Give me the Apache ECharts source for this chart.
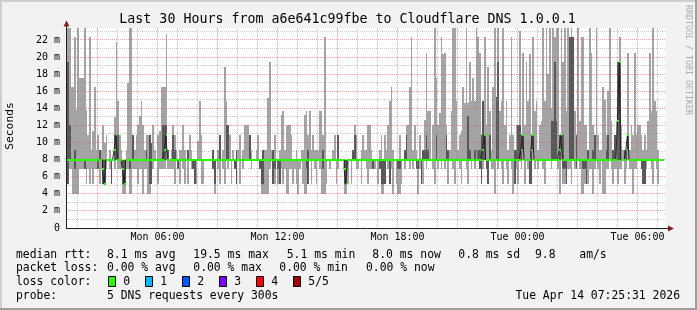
<!DOCTYPE html>
<html><head><meta charset="utf-8">
<script src="https://cdn.jsdelivr.net/npm/echarts@6/dist/echarts.min.js"></script>
<style>html,body{margin:0;padding:0;background:#f2f2f2}#c{width:697px;height:310px}</style>
</head><body><div id="c"></div><script>
// ---- data: 5 DNS pings per 5-minute step (sorted), Mon 01:25 .. Tue 07:20 ----
const pingMin = [6.9,5.1,6.9,6.9,4.0,4.0,4.0,4.0,6.9,6.9,
 6.9,6.9,5.1,6.9,5.1,6.9,5.1,6.9,6.9,6.9,
 5.1,6.9,5.1,5.1,6.9,8,6.9,5.1,8,6.9,
 8,6.9,6.9,6.9,4.0,4.0,6.9,6.9,4.0,4.0,
 6.9,6.9,6.9,5.1,6.9,6.9,4.0,6.9,6.9,4.0,
 4.0,5.1,6.9,8,8,5.1,6.9,6.9,6.9,6.9,
 8,6.9,6.9,6.9,6.9,5.1,8,6.9,5.1,8,
 6.9,5.1,8,5.1,8,6.9,6.9,5.1,5.1,8,
 8,5.1,5.1,8,8,8,8,8,6.9,4.0,
 8,6.9,5.1,8,6.9,5.1,8,6.9,8,5.1,
 8,6.9,5.1,8,5.1,8,6.9,8,8,8,
 8,6.9,8,8,8,8,6.9,4.0,4.0,4.0,
 4.0,4.0,6.9,8,5.1,5.1,8,5.1,5.1,6.9,
 5.1,6.9,4.0,4.0,6.9,6.9,5.1,6.9,5.1,4.0,
 6.9,8,5.1,4.0,4.0,5.1,8,5.1,8,6.9,
 5.1,8,6.9,4.0,4.0,4.0,5.1,8,6.9,8,
 8,8,5.1,6.9,8,8,8,4.0,4.0,5.1,
 8,5.1,8,8,6.9,6.9,8,5.1,8,8,
 6.9,5.1,6.9,6.9,6.9,6.9,8,5.1,6.9,4.0,
 4.0,5.1,8,6.9,5.1,6.9,4.0,8,5.1,4.0,
 4.0,5.1,8,6.9,8,8,6.9,8,6.9,8,
 6.9,4.0,6.9,5.1,5.1,8,6.9,8,8,8,
 6.9,5.1,8,6.9,8,6.9,8,6.9,8,5.1,
 8,8,6.9,5.1,8,8,6.9,5.1,8,8,
 6.9,5.1,8,6.9,8,6.9,8,8,6.9,5.1,
 6.9,8,6.9,5.1,8,6.9,6.9,4.0,8,6.9,
 8,6.9,5.1,8,6.9,5.1,8,6.9,4.0,5.1,
 6.9,5.1,8,6.9,8,5.1,8,6.9,5.1,5.1,
 8,6.9,8,6.9,8,8,6.9,5.1,8,8,
 8,6.9,8,8,8,6.9,4.0,8,5.1,5.1,
 5.1,6.9,6.9,5.1,8,6.9,6.9,8,6.9,4.0,
 4.0,5.1,5.1,5.1,6.9,6.9,4.0,6.9,8,6.9,
 5.1,8,4.0,4.0,6.9,6.9,8,6.9,5.1,6.9,
 6.9,5.1,6.9,6.9,8,5.1,6.9,8,6.9,6.9,
 4.0,6.9,6.9,8,8,6.9,5.1,5.1,6.9,8,
 8,6.9,5.1,8,6.9,5.1,8,8,8];
const ping2 = [8,5.1,8,8,8,6.9,8,8,8,8,
 8,6.9,8,8,8,8,8,8,8,6.9,
 8,8,5.1,5.1,8,8,8,5.1,8,8,
 8,8,8,8,5.1,5.1,8,8,6.9,8,
 8,8,8,8,8,8,8,8,8,8,
 5.1,5.1,8,8,8,8,8,8,8,8,
 9.1,8,8,8,8,8,8,6.9,8,8,
 8,8,8,8,8,8,6.9,5.1,8,8,
 8,8,8,8,8,8,8,8,6.9,5.1,
 8,8,8,8,8,8,8,8,8,8,
 8,6.9,5.1,8,8,8,8,8,8,8,
 8,8,8,8,8,8,6.9,5.1,5.1,8,
 8,8,8,8,5.1,6.9,8,6.9,5.1,8,
 8,8,8,8,8,8,8,8,8,8,
 8,8,8,8,6.9,5.1,8,8,8,8,
 8,8,8,8,6.9,8,8,8,8,8,
 8,8,8,8,8,8,8,5.1,5.1,8,
 8,8,8,8,8,8,8,8,8,8,
 8,8,8,8,6.9,8,8,8,6.9,5.1,
 5.1,5.1,8,8,5.1,8,8,8,8,6.9,
 6.9,8,8,8,8,8,8,8,8,8,
 6.9,6.9,8,5.1,8,8,8,8,8,8,
 8,8,8,8,8,8,8,8,8,8,
 8,8,8,8,8,8,8,8,8,8,
 8,8,8,8,8,8,8,8,6.9,5.1,
 8,8,6.9,5.1,8,8,8,8,8,8,
 8,8,8,8,8,8,8,8,8,5.1,
 8,8,8,8,9.1,8,8,8,5.1,5.1,
 9.1,8,8,8,8,8,8,8,8,8,
 8,8,8,8,8,8,8,9.1,6.9,6.9,
 5.1,8,8,8,8,8,6.9,8,8,8,
 6.9,6.9,5.1,8,8,8,8,8,8,8,
 8,8,8,8,8,8,8,8,8,8,
 8,8,8,8,8,8,8,9.1,8,8,
 8,8,8,8,8,6.9,5.1,5.1,8,8,
 8,8,8,8,8,8,8,8,8];
const pingMed = [8,8,8,8,8,8,8,8,8,8,
 8,8,8,8,8,8,8,8,8,8,
 8,8,6.9,5.1,8,8,8,8,8,9.1,
 10.9,8,8,8,6.9,5.1,8,8,8,8,
 8,8,8,8,8,8,8,8,8,8,
 8,8,8,8,8,8,8,8,8,9.1,
 10.9,8,8,8,8,8,8,8,8,8,
 8,8,8,8,8,8,8,8,8,8,
 8,8,8,8,8,8,8,8,8,8,
 8,8,8,8,8,8,8,8,8,8,
 8,8,8,8,8,8,8,8,8,8,
 8,8,8,8,8,8,8,8,8,8,
 8,8,8,8,8,8,8,8,8,8,
 8,8,8,8,8,8,8,8,8,8,
 8,8,8,8,8,8,8,8,8,8,
 8,8,8,8,8,8,8,8,8,8,
 8,8,8,8,8,8,8,6.9,5.1,8,
 8,8,8,8,8,8,8,8,8,8,
 8,8,8,8,8,8,8,8,8,8,
 8,8,8,8,8,8,8,8,8,8,
 8,8,8,8,8,8,8,8,8,8,
 8,8,8,8,8,8,8,8,8,8,
 8,8,8,8,8,8,8,8,8,8,
 8,8,8,8,8,8,8,8,8,8,
 8,8,8,8,8,8,8,8,8,8,
 9.1,10.9,8,8,8,8,8,8,8,8,
 8,8,8,8,8,8,8,8,8,8,
 8,8,8,9.1,10.9,8,8,8,8,9.1,
 10.9,8,8,8,8,8,8,8,8,8,
 8,8,8,8,8,8,9.1,10.9,8,8,
 8,8,8,8,8,8,8,8,8,8,
 8,8,8,8,8,8,8,8,8,8,
 8,8,8,8,8,8,8,8,8,8,
 8,12.5,19.4,8,8,8,9.1,10.9,8,8,
 8,8,8,8,8,8,8,8,8,8,
 8,8,8,8,8,8,8,8,8];
const ping4 = [8,19.4,12,8,8,9.1,8,8,8,8,
 8,8,8,8,8,8,8,8,8,8,
 9.1,8,8,8,8,8,8,8,8,10.9,
 10.9,10.9,8,8,8,8,8,8,8,8,
 10.9,8,8,8,8,8,8,8,9.1,8,
 10.9,10.0,8,8,8,8,8,8,12.0,12.0,
 12,9.1,8,8,10.9,9.1,8,8,8,8,
 8,8,8,9.1,8,8,8,8,8,8,
 8,8,8,8,8,8,8,8,9.1,8,
 8,8,10.9,8,8,8,12.0,12.0,8,8,
 8,8,9.1,8,8,8,8,8,8,8,
 10.9,8,8,8,8,8,8,8,9.1,8,
 8,8,8,8,9.1,8,8,8,8,8,
 8,8,8,8,8,8,8,8,8,8,
 8,8,8,8,8,9.1,8,8,8,8,
 8,8,8,8,9.1,8,8,8,8,8,
 8,8,8,10.9,8,8,8,8,8,8,
 8,8,9.1,10.9,8,8,8,8,8,8,
 8,8,8,8,8,8,8,8,8,8,
 8,8,8,8,8,8,8,8,8,8,
 8,8,8,9.1,10.9,8,8,8,8,8,
 8,8,8,8,9.1,9.1,10.9,9.1,8,8,
 8,8,10.9,8,8,8,8,8,10.9,9.1,
 8,8,8,8,8,8,8,8,8,8,
 8,13.1,9.1,8,8,9.1,8,9.1,9.1,10.9,
 14.9,10.9,8,8,10.9,8,8,8,15.3,19.4,
 8,8,8,8,8,8,8,8,8,9.1,
 9.1,12.0,12.0,10.9,10.9,8,8,8,8,10.9,
 10.9,8,8,8,8,8,8,8,8,8,
 8,12.5,12.5,19.4,12.5,8,10.9,10.9,10.9,8,
 8,8,22.3,22.3,22.3,8,10.9,8,8,8,
 8,8,8,9.1,8,8,9.1,10.9,8,8,
 8,8,8,8,9.1,10.9,8,8,9.1,10.9,
 8,19.4,19.4,8,8,9.1,9.1,10.9,8,8,
 8,8,8,8,8,8,8,8,8,8,
 8,8,8,8,8,8,8,8,8];
const pingMax = [9.1,23.4,23.4,16.5,16.5,22.3,13.8,23.4,17.6,17.6,
 17.6,23.4,13.8,10.9,22.3,9.1,11.3,16.5,9.1,10.9,
 9.1,9.1,12.0,10.0,10.9,8,9.1,8,8,13.0,
 21.8,14.9,10.9,9.1,8,8,9.1,17.0,23.4,23.4,
 10.9,9.1,10.9,12.0,13.1,14.9,12.0,9.1,10.9,10.9,
 10.9,10.0,12.0,9.1,8,10.9,11.3,16.5,16.5,16.5,
 22.7,9.1,8,9.1,12.0,10.9,9.1,8,9.1,9.1,
 12.0,9.1,8,9.1,10.9,9.1,8,8,8,10.2,
 14.9,10.9,8,8,8,8,8,8,9.1,8,
 8,9.1,10.9,8,9.1,18.8,14.9,12.0,10.9,8,
 9.1,8,9.1,9.1,10.9,8,9.1,12.0,12.0,12.0,
 10.9,9.1,8,8,9.1,10.9,8,8,9.1,9.1,
 9.1,15.2,19.4,9.1,9.1,10.9,8,8,9.1,13.2,
 13.7,9.1,12.0,12.0,12.0,10.9,8,8,9.1,8,
 8,9.1,9.1,13.2,13.7,10.9,13.7,9.1,10.9,9.1,
 9.1,9.1,13.7,13.7,10.9,22.3,8,8,8,8,
 9.1,10.9,8,10.9,8,8,8,8,8,8,
 8,8,9.1,12.0,10.9,8,8,9.1,10.9,9.1,
 9.1,12.0,12.0,9.1,8,8,8,8,9.1,10.9,
 8,10.9,9.1,12.0,14.9,16.5,9.1,8,8,8,
 10.9,8,8,9.1,12.0,12.0,16.5,22.3,9.1,12.0,
 9.1,8,10.9,8,9.1,12.6,20.5,13.7,13.7,8,
 12.0,23.4,17.6,12.0,13.4,22.3,20.3,20.5,12.0,9.1,
 9.1,13.7,23.4,23.4,14.9,9.1,10.9,11.3,16.5,14.6,
 23.4,14.6,19.4,14.9,17.6,14.9,23.4,22.3,20.5,10.9,
 14.9,22.3,12.0,18.8,13.7,9.1,16.5,23.4,15.3,23.4,
 13.7,14.9,23.4,12.0,14.9,9.1,10.9,22.3,10.9,9.1,
 12.0,12.0,23.0,10.9,20.5,12.0,19.4,14.9,20.3,10.9,
 22.3,13.7,14.9,9.1,12.0,12.5,23.4,14.9,23.4,18.0,
 23.4,14.0,23.4,22.3,23.4,23.4,10.9,23.4,19.4,23.4,
 13.7,23.4,22.3,23.4,22.3,13.7,10.9,23.4,12.5,22.3,
 22.3,12.0,12.0,9.1,23.4,20.5,12.0,10.9,23.4,10.9,
 9.1,9.1,16.5,15.0,10.9,16.0,23.4,12.5,9.1,10.9,
 12.5,19.4,22.3,12.0,9.1,9.1,9.1,20.5,9.1,12.0,
 10.9,20.5,10.9,12.0,12.0,10.9,9.1,10.9,9.1,12.5,
 20.5,13.7,23.4,14.9,13.7,9.1,8,8,8];

// ---- axis ticks and texts ----
const xTickHours = [6, 12, 18, 24, 30];
const xTickLabels = ['Mon 06:00', 'Mon 12:00', 'Mon 18:00', 'Tue 00:00', 'Tue 06:00'];
const titleText = 'Last 30 Hours from a6e641c99fbe to Cloudflare DNS 1.0.0.1';
const yName = 'Seconds';
const watermark = 'RRDTOOL / TOBI OETIKER';
const statRtt = ['median rtt:', '8.1 ms avg', '19.5 ms max', '5.1 ms min', '8.0 ms now', '0.8 ms sd', '9.8', 'am/s'];
const statLoss = ['packet loss:', '0.00 % avg', '0.00 % max', '0.00 % min', '0.00 % now'];
const lossTitle = 'loss color:';
const lossLabels = ['0', '1', '2', '3', '4', '5/5'];
const lossColors = ['#26ff00', '#00b8ff', '#0059ff', '#7e00ff', '#ff0000', '#a10000'];
const probeLine = ['probe:', '5 DNS requests every 300s'];
const stamp = 'Tue Apr 14 07:25:31 2026';

// ---- build ----
const FONT = '"DejaVu Sans Mono"';
const xMin = 1 + 25/60 + 31/3600, xMax = xMin + 30;
const firstStep = 1 + 25/60, stepH = 5/60;
const yMax = 23.4;
const rows = pingMed.map((m, i) => [firstStep + i*stepH, pingMin[i], ping2[i], ping4[i], pingMax[i], m]);
const medLine = rows.map(r => [r[0], r[5]]);
medLine.push([firstStep + rows.length*stepH, pingMed[pingMed.length-1]]);
const hourLines = []; for (let h = Math.ceil(xMin); h <= xMax; h++) hourLines.push([h, 0, h % 3 === 0 ? 1 : 0]);
const msLines = []; for (let v = 1; v < yMax; v++) msLines.push([xMin, v, v % 2 === 0 ? 1 : 0]);
const MINOR = 'rgba(143,143,143,0.45)', MAJOR = 'rgba(222,79,79,0.5)';

function stepX(api, t, cs){
  const a = Math.max(Math.round(api.coord([t, 0])[0]), cs.x);
  const b = Math.min(Math.round(api.coord([t + stepH, 0])[0]), cs.x + cs.width);
  return [a, b];
}
function smokeItem(params, api){
  const cs = params.coordSys, t = api.value(0);
  const [a, b] = stepX(api, t, cs); if (b <= a) return null;
  const y = v => Math.round(api.coord([t, v])[1]);
  const ch = [];
  const yl = y(api.value(1)), yh = y(api.value(4));
  if (yl > yh) ch.push({type:'rect', shape:{x:a, y:yh, width:b-a, height:yl-yh}, style:{fill:'#a4a4a4'}});
  const y2 = y(api.value(2)), y4 = y(api.value(3));
  if (y2 > y4) ch.push({type:'rect', shape:{x:a, y:y4, width:b-a, height:y2-y4}, style:{fill:'#585858'}});
  return {type:'group', children:ch};
}
function medItem(params, api){
  const cs = params.coordSys, t = api.value(0);
  const [a, b] = stepX(api, t, cs); if (b <= a) return null;
  const ym = Math.round(api.coord([t, api.value(5)])[1]);
  return {type:'rect', shape:{x:a, y:ym-1, width:b-a, height:2}, style:{fill:lossColors[0]}};
}
function vGrid(params, api){
  const cs = params.coordSys;
  const x = Math.floor(api.coord([api.value(0), 0])[0]) + 0.5;
  return {type:'line', shape:{x1:x, y1:cs.y, x2:x, y2:cs.y+cs.height},
    style:{stroke: api.value(2) ? MAJOR : MINOR, lineWidth:1, lineDash:[1,1]}};
}
function hGrid(params, api){
  const cs = params.coordSys;
  const y = Math.floor(api.coord([xMin, api.value(1)])[1]) + 0.5;
  return {type:'line', shape:{x1:cs.x, y1:y, x2:cs.x+cs.width, y2:y},
    style:{stroke: api.value(2) ? MAJOR : MINOR, lineWidth:1, lineDash:[1,1]}};
}

const GL = 66, GT = 28, GW = 600, GH = 200;
const txt = (text, x, y, size, extra) => Object.assign({type:'text', x:x, y:y, z:100,
  style:{text:text, font: size + 'px ' + FONT, fill:'#000', align:'left', verticalAlign:'middle'}}, extra || {});

const rttX = [16, 107, 193.3, 286.7, 372.3, 458.3, 535, 579.3];
const lossX = [16, 107, 193.3, 279.3, 366];
const boxX = [108.5, 145.5, 182.5, 219.5, 256.5, 293.5];
const graphics = [
  {type:'rect', shape:{x:0, y:0, width:697, height:2}, style:{fill:'#cfcfcf'}, z:100},
  {type:'rect', shape:{x:0, y:0, width:2, height:310}, style:{fill:'#cfcfcf'}, z:100},
  {type:'rect', shape:{x:0, y:308, width:697, height:2}, style:{fill:'#9e9e9e'}, z:100},
  {type:'rect', shape:{x:695, y:0, width:2, height:310}, style:{fill:'#9e9e9e'}, z:100},
  {type:'line', shape:{x1:GL+0.5, y1:GT+GH, x2:GL+0.5, y2:GT-2}, style:{stroke:'#1f1f1f', lineWidth:1}, z:100},
  {type:'line', shape:{x1:GL, y1:GT+GH+0.5, x2:GL+GW+3, y2:GT+GH+0.5}, style:{stroke:'#1f1f1f', lineWidth:1}, z:100},
  {type:'polygon', shape:{points:[[GL-2.5,GT-1.5],[GL+3.5,GT-1.5],[GL+0.5,GT-7.5]]}, style:{fill:'#801f1f'}, z:100},
  {type:'polygon', shape:{points:[[GL+GW+2,GT+GH-2.5],[GL+GW+2,GT+GH+3.5],[GL+GW+8,GT+GH+0.5]]}, style:{fill:'#801f1f'}, z:100},
  txt(titleText, 347.5, 19.3, 13.3, {style:{text:titleText, font:'13.3px '+FONT, fill:'#000', align:'center', verticalAlign:'middle'}}),
  txt(yName, 10.5, 126, 11.3, {rotation:Math.PI/2, style:{text:yName, font:'11.3px '+FONT, fill:'#000', align:'center', verticalAlign:'middle'}}),
  txt(watermark, 688.5, 60, 8.3, {rotation:-Math.PI/2, style:{text:watermark, font:'8.3px '+FONT, fill:'#ababab', align:'center', verticalAlign:'middle'}}),
];
statRtt.forEach((s, i) => graphics.push(txt(s, rttX[i], 254.8, 11.4)));
statLoss.forEach((s, i) => graphics.push(txt(s, lossX[i], 268.3, 11.4)));
graphics.push(txt(lossTitle, 16, 281.7, 11.4));
lossLabels.forEach((s, i) => {
  graphics.push({type:'rect', z:100, shape:{x:boxX[i], y:276.5, width:7, height:10}, style:{fill:lossColors[i], stroke:'#000', lineWidth:1}});
  graphics.push(txt(s, boxX[i] + 14.8, 281.7, 11.4));
});
graphics.push(txt(probeLine[0], 16, 295.6, 11.4));
graphics.push(txt(probeLine[1], 107, 295.6, 11.4));
graphics.push(txt(stamp, 680, 295.6, 11.4, {style:{text:stamp, font:'11.4px '+FONT, fill:'#000', align:'right', verticalAlign:'middle'}}));

const chart = echarts.init(document.getElementById('c'));
chart.setOption({
  animation:false,
  backgroundColor:'#f2f2f2',
  grid:{left:GL, top:GT, width:GW, height:GH, show:true, backgroundColor:'#ffffff', borderWidth:0},
  xAxis:{type:'value', min:xMin, max:xMax,
    axisLine:{show:false}, axisTick:{show:false}, splitLine:{show:false},
    axisLabel:{customValues:xTickHours, margin:4, fontFamily:FONT, fontSize:10, color:'#000',
      formatter:v => { const i = xTickHours.indexOf(Math.round(v)); return i >= 0 ? xTickLabels[i] : ''; }}},
  yAxis:{type:'value', min:0, max:yMax, interval:2,
    axisLine:{show:false}, axisTick:{show:false}, splitLine:{show:false},
    axisLabel:{showMaxLabel:false, margin:6, fontFamily:FONT, fontSize:10, color:'#000',
      formatter:v => v === 0 ? '0' : (v + ' m')}},
  graphic:graphics,
  series:[
    {type:'custom', z:2, renderItem:smokeItem, data:rows, encode:{x:0, y:[1,4]}, silent:true, clip:true},
    {type:'custom', z:3, renderItem:vGrid, data:hourLines, encode:{x:0, y:1}, silent:true},
    {type:'custom', z:3, renderItem:hGrid, data:msLines, encode:{x:0, y:1}, silent:true},
    {type:'line', z:4, data:medLine, step:'end', symbol:'none', silent:true,
      lineStyle:{color:'#202020', width:1}},
    {type:'custom', z:5, renderItem:medItem, data:rows, encode:{x:0, y:5}, silent:true, clip:true}
  ]
});
</script></body></html>
